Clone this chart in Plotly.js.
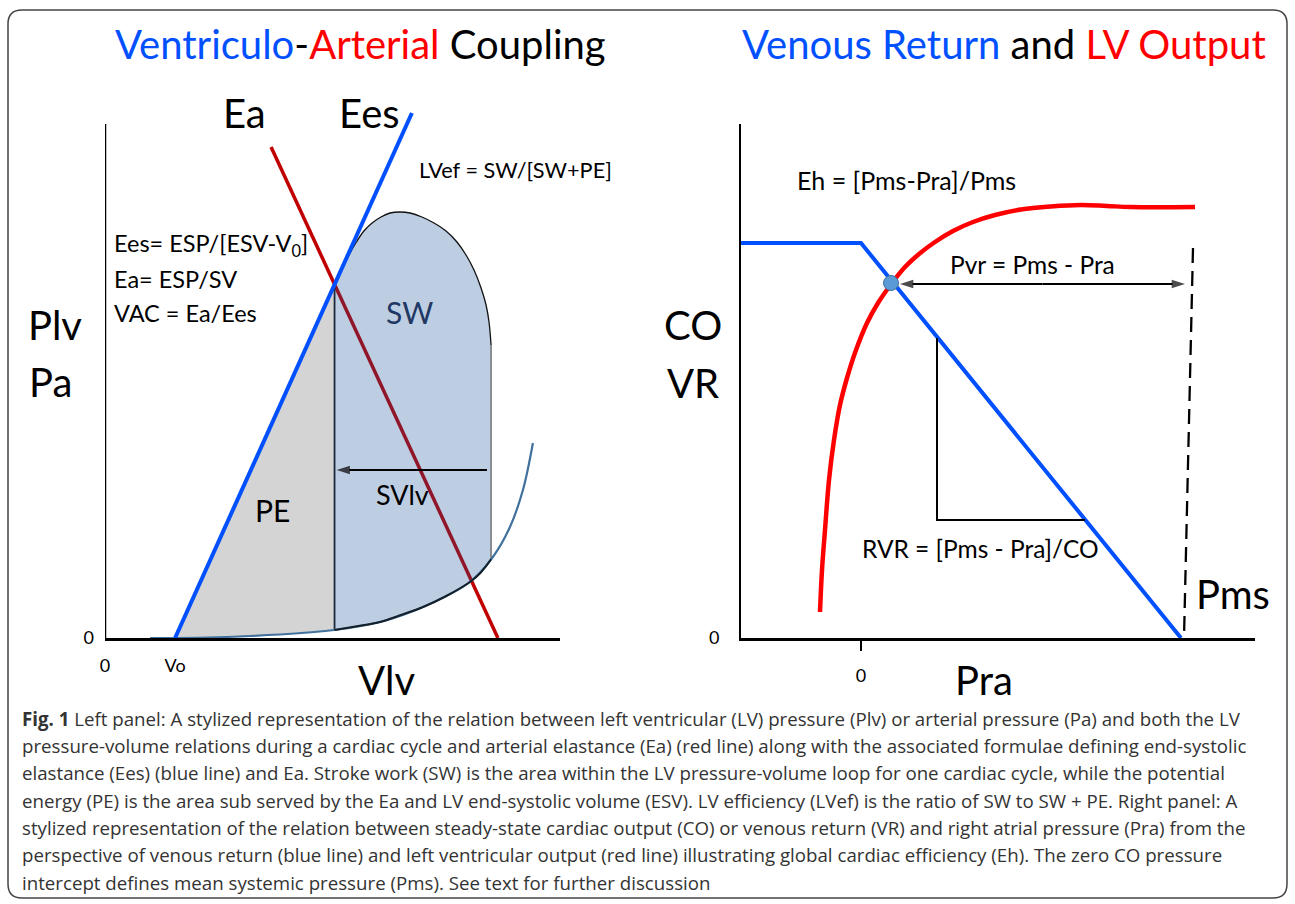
<!DOCTYPE html>
<html>
<head>
<meta charset="utf-8">
<script src="https://cdn.plot.ly/plotly-3.0.1.min.js"></script>
<style>html,body{margin:0;padding:0;background:#fff;}#chart{width:1295px;height:904px;}</style>
</head>
<body>
<div id="chart"></div>
<script>
// ---------- Left panel data (Vlv, Plv) ----------
const vo = 30.8;
const eesV = [30.8, 134.9];
const eesP = [0, 210];
const eaV = [73, 172.7];
const eaP = [196.4, 0];
const edpvrV = [19.8, 30.8, 63.7, 100.7, 120.9, 139.8, 160.4, 170.5, 178, 183.7, 188.1];
const edpvrP = [0, 0, 0.8, 3.2, 6.4, 12.4, 22.4, 32.4, 44.4, 59.2, 78];
const swTopV = [100.9, 104.4, 107.5, 110.5, 113.8, 117.4, 121.3, 125.3, 129.7, 134.1, 139.3, 144.6, 149.9, 154.7, 158.7, 162.2, 165.3, 167.5, 168.8, 169.7];
const swTopP = [140.8, 148, 153.6, 158.4, 162.8, 166, 168.4, 170, 170.4, 170, 168.4, 166, 162.8, 158.4, 153.2, 147.2, 140, 133.2, 126.4, 117.2];
const swBottomV = [169.7, 165, 160.4, 150, 139.8, 130, 120.9, 110, 100.9];
const swBottomP = [31.5, 26, 22.4, 16.8, 12.4, 9.2, 6.4, 4.6, 3.2];
const esvLineV = [100.9, 100.9];
const esvLineP = [3.2, 140.8];
const edvLineV = [169.7, 169.7];
const edvLineP = [31.5, 117.2];
const peV = [30.8, 100.9, 100.9, 63.7, 30.8];
const peP = [0, 140.8, 3.2, 0.8, 0];
const svArrowV = [167.9, 101.8];
const svArrowP = [67.2, 67.2];
const leftXTicks = [0, vo];
const leftXTickText = ['0', 'Vo'];

// ---------- Right panel data (Pra, CO) ----------
const vrPra = [-6, 0, 16];
const vrCO = [7.9, 7.9, 0];
const coPra = [-2.05, -1.95, -1.8, -1.6, -1.35, -1.05, -0.7, -0.25, 0.3, 0.85, 1.55, 2.2, 2.9, 3.7, 4.6, 5.6, 6.7, 8.0, 9.5, 11.0, 12.3, 13.5, 16.7];
const coCO  = [0.52, 1.36, 2.16, 3.16, 3.96, 4.66, 5.2, 5.76, 6.3, 6.7, 7.1, 7.42, 7.68, 7.92, 8.14, 8.32, 8.46, 8.57, 8.63, 8.66, 8.64, 8.62, 8.62];
const eqPra = [1.5];
const eqCO = [7.1];
const pmsPra = [16.6, 16.15];
const pmsCO = [7.8, 0];
const rvrPra = [3.8, 3.8, 11.2];
const rvrCO = [6.0, 2.36, 2.36];
const pvrArrowPra = [1.95, 16.2];
const pvrArrowCO = [7.08, 7.08];

// ---------- caption ----------
const captionLines = [
  '<b>Fig. 1</b> Left panel: A stylized representation of the relation between left ventricular (LV) pressure (Plv) or arterial pressure (Pa) and both the LV',
  'pressure-volume relations during a cardiac cycle and arterial elastance (Ea) (red line) along with the associated formulae defining end-systolic',
  'elastance (Ees) (blue line) and Ea. Stroke work (SW) is the area within the LV pressure-volume loop for one cardiac cycle, while the potential',
  'energy (PE) is the area sub served by the Ea and LV end-systolic volume (ESV). LV efficiency (LVef) is the ratio of SW to SW + PE. Right panel: A',
  'stylized representation of the relation between steady-state cardiac output (CO) or venous return (VR) and right atrial pressure (Pra) from the',
  'perspective of venous return (blue line) and left ventricular output (red line) illustrating global cardiac efficiency (Eh). The zero CO pressure',
  'intercept defines mean systemic pressure (Pms). See text for further discussion'
];

// ---------- layout helpers ----------
const W = 1295, H = 904;
const fx = px => px / W;
const fy = py => 1 - py / H;
const LBL = 'Lato, "Open Sans", sans-serif';

function arrowTrace(xs, ys, xa, ya) {
  return {x: xs, y: ys, xaxis: xa, yaxis: ya, mode: 'lines+markers', line: {color: '#000', width: 2.2},
    marker: {symbol: 'arrow', angleref: 'previous', size: [0, 14], color: '#000', line: {width: 0}}, cliponaxis: false};
}
const pvrMid = (pvrArrowPra[0] + pvrArrowPra[1]) / 2;

const traces = [
  {x: peV, y: peP, xaxis: 'x', yaxis: 'y', mode: 'lines', fill: 'toself', fillcolor: '#D4D4D4', line: {width: 0}},
  {x: eaV, y: eaP, xaxis: 'x', yaxis: 'y', mode: 'lines', line: {color: '#C00000', width: 3.5}},
  {x: swTopV.concat(swBottomV), y: swTopP.concat(swBottomP), xaxis: 'x', yaxis: 'y', mode: 'lines', fill: 'toself', fillcolor: 'rgba(20,80,150,0.28)', line: {width: 0}},
  {x: swTopV, y: swTopP, xaxis: 'x', yaxis: 'y', mode: 'lines', line: {color: '#111', width: 1.3, shape: 'spline'}},
  {x: esvLineV, y: esvLineP, xaxis: 'x', yaxis: 'y', mode: 'lines', line: {color: '#1B2A3A', width: 1.8}},
  {x: edvLineV, y: edvLineP, xaxis: 'x', yaxis: 'y', mode: 'lines', line: {color: '#555', width: 1.2}},
  {x: edpvrV, y: edpvrP, xaxis: 'x', yaxis: 'y', mode: 'lines', line: {color: '#41719C', width: 2.2, shape: 'spline'}},
  {x: swBottomV, y: swBottomP, xaxis: 'x', yaxis: 'y', mode: 'lines', line: {color: '#15202B', width: 2, shape: 'spline'}},
  {x: eesV, y: eesP, xaxis: 'x', yaxis: 'y', mode: 'lines', line: {color: '#0050FF', width: 4}},
  arrowTrace(svArrowV, svArrowP, 'x', 'y'),

  {x: vrPra, y: vrCO, xaxis: 'x2', yaxis: 'y2', mode: 'lines', line: {color: '#0050FF', width: 4}},
  {x: coPra, y: coCO, xaxis: 'x2', yaxis: 'y2', mode: 'lines', line: {color: '#FF0000', width: 4.5, shape: 'spline', smoothing: 1}},
  {x: pmsPra, y: pmsCO, xaxis: 'x2', yaxis: 'y2', mode: 'lines', line: {color: '#000', width: 2.3, dash: '15px,8px'}},
  {x: rvrPra, y: rvrCO, xaxis: 'x2', yaxis: 'y2', mode: 'lines', line: {color: '#000', width: 2}},
  arrowTrace([pvrMid, pvrArrowPra[0]], [pvrArrowCO[0], pvrArrowCO[0]], 'x2', 'y2'),
  arrowTrace([pvrMid, pvrArrowPra[1]], [pvrArrowCO[1], pvrArrowCO[1]], 'x2', 'y2'),
  {x: eqPra, y: eqCO, xaxis: 'x2', yaxis: 'y2', mode: 'markers', marker: {color: '#5B9BD5', size: 15, line: {color: '#41719C', width: 1}}, cliponaxis: false}
];
traces.forEach(t => { t.hoverinfo = 'skip'; t.showlegend = false; });

const annotations = [];
function txt(text, px, py, size, color, anchor, extra) {
  annotations.push(Object.assign({
    text: text, x: fx(px), y: fy(py), xref: 'paper', yref: 'paper',
    xanchor: anchor || 'center', yanchor: 'middle', showarrow: false,
    font: {family: LBL, size: size, color: color || '#000'}
  }, extra || {}));
}

// titles
txt('<span style="color:#0050FF">Ventriculo</span>-<span style="color:#FF0000">Arterial</span> Coupling', 360, 44, 40);
txt('<span style="color:#0050FF">Venous Return</span> and <span style="color:#FF0000">LV Output</span>', 1004, 44, 40);

// left labels
txt('Ea', 244, 113, 40);
txt('Ees', 369, 113, 40);
txt('Plv', 55, 325, 40);
txt('Pa', 50, 382, 40);
txt('Vlv', 386, 680, 40);
txt('PE', 272, 510, 30);
txt('SW', 410, 312, 30, '#1F3864');
txt('SVlv', 403, 494, 27);
txt('LVef = SW/[SW+PE]', 417, 170, 21.7, '#000', 'left');
txt('Ees= ESP/[ESV-V<sub>0</sub>]', 112, 245, 23.5, '#000', 'left');
txt('Ea= ESP/SV', 112, 279, 23.5, '#000', 'left');
txt('VAC = Ea/Ees', 112, 313, 23.5, '#000', 'left');

// right labels
txt('CO', 693, 325, 40);
txt('VR', 693, 383, 40);
txt('Pra', 984, 680, 40);
txt('Pms', 1233, 594, 40);
txt('Eh = [Pms-Pra]/Pms', 795, 180, 25, '#000', 'left');
txt('Pvr = Pms - Pra', 948, 264, 24.5, '#000', 'left');
txt('RVR = [Pms - Pra]/CO', 860, 548, 24.5, '#000', 'left');

// caption
captionLines.forEach((line, i) => {
  annotations.push({text: line, x: fx(20), y: fy(718 + i * 27.35), xref: 'paper', yref: 'paper', xanchor: 'left', yanchor: 'middle',
    showarrow: false, font: {family: '"Open Sans", "Noto Sans", sans-serif', size: 18.7, color: '#333'}});
});

// border path (rounded)
function roundedRect(x0, y0, x1, y1, r) {
  const X = v => fx(v).toFixed(5), Y = v => fy(v).toFixed(5);
  return `M ${X(x0 + r)} ${Y(y0)} L ${X(x1 - r)} ${Y(y0)} Q ${X(x1)} ${Y(y0)} ${X(x1)} ${Y(y0 + r)} ` +
         `L ${X(x1)} ${Y(y1 - r)} Q ${X(x1)} ${Y(y1)} ${X(x1 - r)} ${Y(y1)} ` +
         `L ${X(x0 + r)} ${Y(y1)} Q ${X(x0)} ${Y(y1)} ${X(x0)} ${Y(y1 - r)} ` +
         `L ${X(x0)} ${Y(y0 + r)} Q ${X(x0)} ${Y(y0)} ${X(x0 + r)} ${Y(y0)} Z`;
}

const leftYTop = (638 - 124) / 2.5;
const shapes = [
  {type: 'path', xref: 'paper', yref: 'paper', path: roundedRect(8, 10, 1287, 898, 14), line: {color: '#444', width: 1.5}},
  {type: 'line', xref: 'x', yref: 'y', x0: 0, x1: 0, y0: 0, y1: leftYTop, line: {color: '#000', width: 2.5}}
];

const axBase = {showgrid: false, zeroline: false, fixedrange: true};
const layout = {
  width: W, height: H, margin: {l: 0, r: 0, t: 0, b: 0},
  paper_bgcolor: '#fff', plot_bgcolor: 'rgba(0,0,0,0)',
  showlegend: false,
  xaxis: Object.assign({}, axBase, {domain: [fx(105), fx(560)], range: [0, 200], showline: true, linecolor: '#000', linewidth: 2.5,
    tickvals: leftXTicks, ticktext: leftXTickText, ticks: '', tickfont: {family: LBL, size: 18, color: '#000'}, ticklabelstandoff: 10, anchor: 'y'}),
  yaxis: Object.assign({}, axBase, {domain: [fy(638), fy(100)], range: [0, 215.2], showline: false,
    tickvals: [0], ticktext: ['0'], ticks: '', tickfont: {family: LBL, size: 18, color: '#000'}, ticklabelstandoff: 10, anchor: 'x'}),
  xaxis2: Object.assign({}, axBase, {domain: [fx(741), fx(1255)], range: [-6, 19.7], showline: true, linecolor: '#000', linewidth: 2.5,
    tickvals: [0], ticktext: ['0'], ticks: 'outside', ticklen: 10, tickwidth: 1.5, tickcolor: '#000', tickfont: {family: LBL, size: 18, color: '#000'}, ticklabelstandoff: 10, anchor: 'y2'}),
  yaxis2: Object.assign({}, axBase, {domain: [fy(638), fy(124)], range: [0, 10.28], showline: true, linecolor: '#000', linewidth: 2,
    tickvals: [0], ticktext: ['0'], ticks: '', tickfont: {family: LBL, size: 18, color: '#000'}, ticklabelstandoff: 16, anchor: 'x2'}),
  annotations: annotations,
  shapes: shapes
};

Plotly.newPlot('chart', traces, layout, {staticPlot: true, displayModeBar: false});
</script>
</body>
</html>
